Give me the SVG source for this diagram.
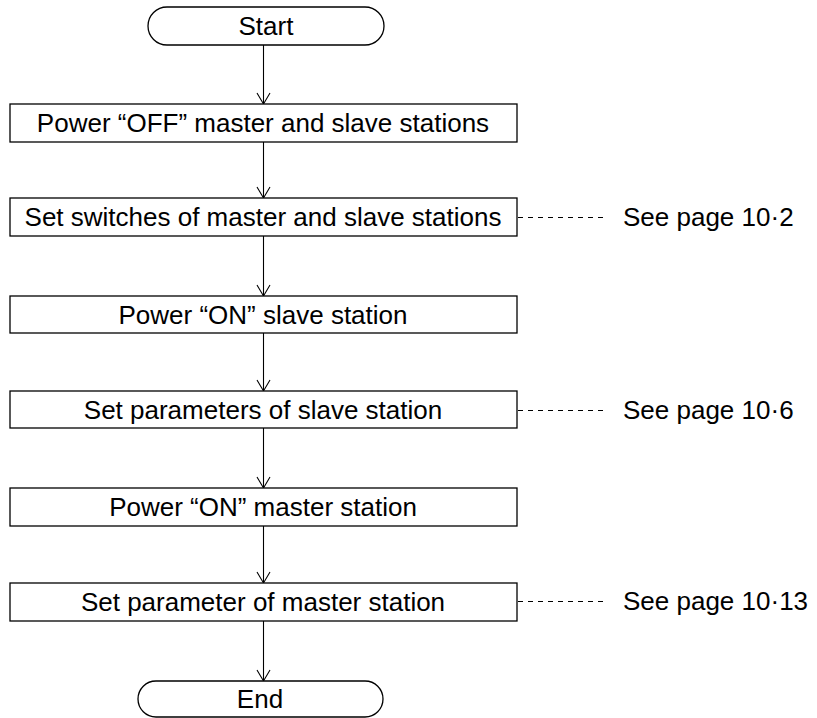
<svg xmlns="http://www.w3.org/2000/svg" width="817" height="718" viewBox="0 0 817 718">
<defs>
<marker id="arr" markerWidth="14" markerHeight="16" refX="12" refY="7" orient="auto" markerUnits="userSpaceOnUse">
<path d="M1,0.5 L12,7 L1,13.5" fill="none" stroke="#000" stroke-width="1.1"/>
</marker>
<style>
.box{fill:#fff;stroke:#000;stroke-width:1.3}
.t{font-family:"Liberation Sans",Arial,sans-serif;font-size:26px;fill:#000;text-anchor:middle}
.ref{font-family:"Liberation Sans",Arial,sans-serif;font-size:26px;fill:#000}
.ln{stroke:#000;stroke-width:1.1;fill:none}
.dash{stroke:#000;stroke-width:1;stroke-dasharray:5 5;fill:none}
</style>
</defs>
<rect width="817" height="718" fill="#fff"/>
<g id="connectors">
<line class="ln" x1="263.5" y1="45" x2="263.5" y2="104" marker-end="url(#arr)"/>
<line class="ln" x1="263.5" y1="142" x2="263.5" y2="198" marker-end="url(#arr)"/>
<line class="ln" x1="263.5" y1="236" x2="263.5" y2="296" marker-end="url(#arr)"/>
<line class="ln" x1="263.5" y1="333" x2="263.5" y2="391" marker-end="url(#arr)"/>
<line class="ln" x1="263.5" y1="428" x2="263.5" y2="488" marker-end="url(#arr)"/>
<line class="ln" x1="263.5" y1="526" x2="263.5" y2="583" marker-end="url(#arr)"/>
<line class="ln" x1="263.5" y1="621" x2="263.5" y2="681" marker-end="url(#arr)"/>
<line class="dash" x1="518" y1="217.5" x2="608" y2="217.5"/>
<line class="dash" x1="518" y1="410.5" x2="608" y2="410.5"/>
<line class="dash" x1="518" y1="601.5" x2="608" y2="601.5"/>
</g>
<g id="start">
<rect class="box" x="148" y="7" width="236" height="38" rx="19" ry="19"/>
<text class="t" x="266" y="35">Start</text>
</g>
<g id="step1">
<rect class="box" x="10" y="104" width="507" height="38"/>
<text class="t" x="263" y="132">Power “OFF” master and slave stations</text>
</g>
<g id="step2">
<rect class="box" x="10" y="198" width="507" height="38"/>
<text class="t" x="263" y="226">Set switches of master and slave stations</text>
</g>
<g id="note1">
<text class="ref" x="623" y="226">See page 10·2</text>
</g>
<g id="step3">
<rect class="box" x="10" y="296" width="507" height="37"/>
<text class="t" x="263" y="324">Power “ON” slave station</text>
</g>
<g id="step4">
<rect class="box" x="10" y="391" width="507" height="37"/>
<text class="t" x="263" y="419">Set parameters of slave station</text>
</g>
<g id="note2">
<text class="ref" x="623" y="419">See page 10·6</text>
</g>
<g id="step5">
<rect class="box" x="10" y="488" width="507" height="38"/>
<text class="t" x="263" y="516">Power “ON” master station</text>
</g>
<g id="step6">
<rect class="box" x="10" y="583" width="507" height="38"/>
<text class="t" x="263" y="611">Set parameter of master station</text>
</g>
<g id="note3">
<text class="ref" x="623" y="610">See page 10·13</text>
</g>
<g id="end">
<rect class="box" x="138" y="681" width="245" height="36" rx="18" ry="18"/>
<text class="t" x="260" y="708">End</text>
</g>
</svg>
